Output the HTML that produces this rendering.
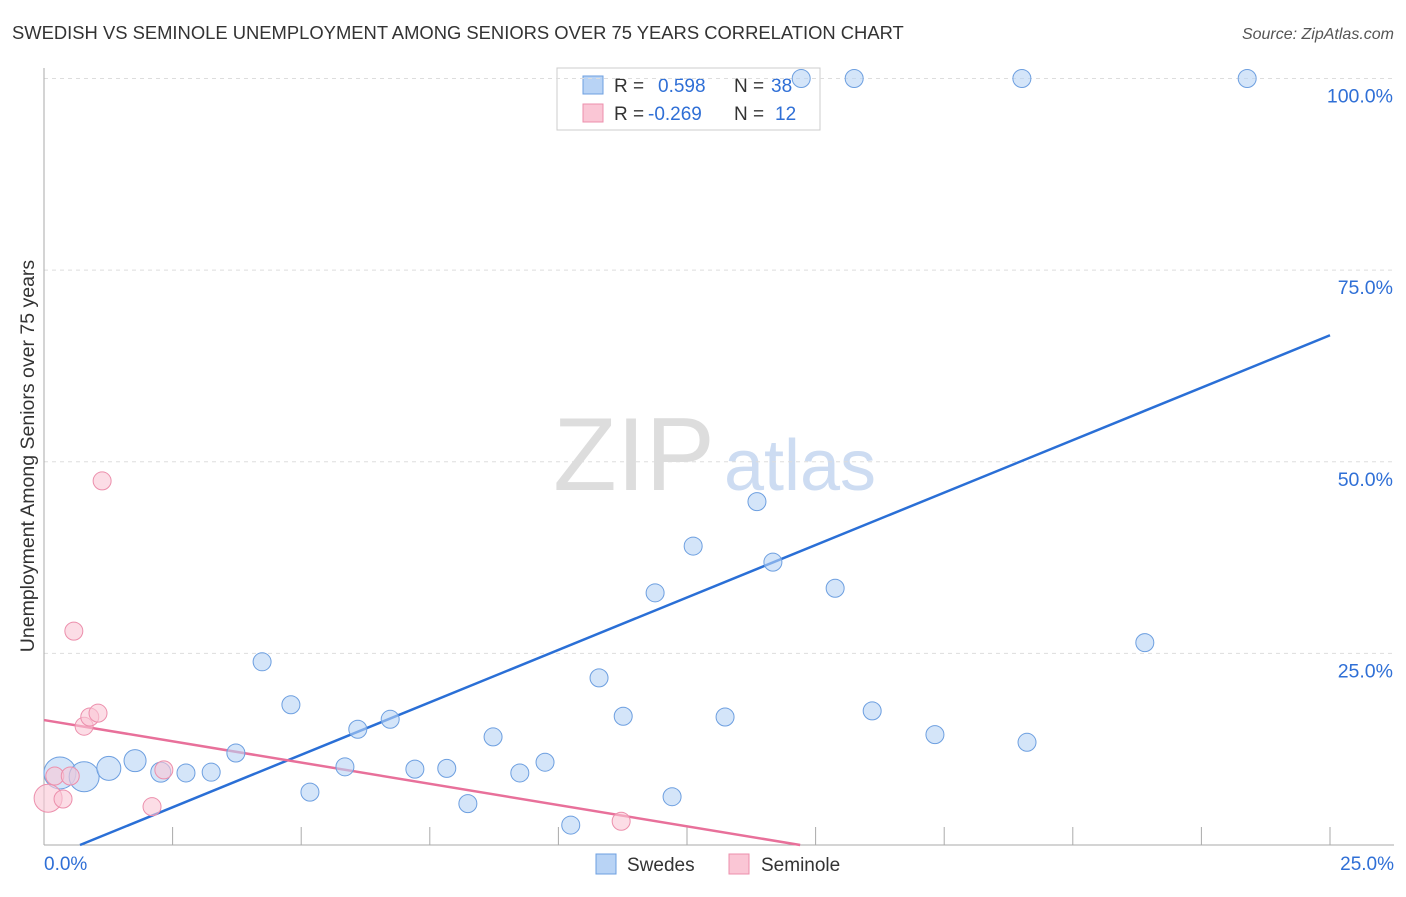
<!DOCTYPE html>
<html><head><meta charset="utf-8"><style>
body{margin:0;background:#fff;font-family:"Liberation Sans",sans-serif}
svg text{font-family:"Liberation Sans",sans-serif}
</style></head><body>
<svg id="chart" width="1406" height="892">
<text x="12" y="39" font-size="18.4" fill="#333">SWEDISH VS SEMINOLE UNEMPLOYMENT AMONG SENIORS OVER 75 YEARS CORRELATION CHART</text>
<text x="1394" y="39" font-size="16" fill="#555" text-anchor="end" font-style="italic">Source: ZipAtlas.com</text>
<text x="34" y="456" font-size="19.5" fill="#333" text-anchor="middle" transform="rotate(-90 34 456)">Unemployment Among Seniors over 75 years</text>
<g><text x="634" y="490" font-size="104" fill="#ddd" font-family="Liberation Serif" text-anchor="middle">ZIP</text><text x="800" y="490" font-size="72" fill="#cddcf2" text-anchor="middle">atlas</text></g>
<g>
<rect x="557" y="68" width="263" height="62" fill="#fff" stroke="#ccc"/>
<rect x="583" y="76" width="20" height="18" fill="#b8d3f5" stroke="#6d9fe0"/>
<rect x="583" y="104" width="20" height="18" fill="#fac6d5" stroke="#ec8fac"/>
<text x="614" y="92" font-size="19" fill="#333">R =</text><text x="658" y="92" font-size="19" fill="#2f6fd6">0.598</text>
<text x="734" y="92" font-size="19" fill="#333">N =</text><text x="771" y="92" font-size="19" fill="#2f6fd6">38</text>
<text x="614" y="120" font-size="19" fill="#333">R =</text><text x="648" y="120" font-size="19" fill="#2f6fd6">-0.269</text>
<text x="734" y="120" font-size="19" fill="#333">N =</text><text x="775" y="120" font-size="19" fill="#2f6fd6">12</text>
</g>
<g id="grid"></g><g id="axes"></g><g id="trends"></g><g id="pts"></g>
<g>
<rect x="596" y="854" width="20" height="20" fill="#b8d3f5" stroke="#6d9fe0"/><text x="627" y="871" font-size="19" fill="#333">Swedes</text>
<rect x="729" y="854" width="20" height="20" fill="#fac6d5" stroke="#ec8fac"/><text x="761" y="871" font-size="19" fill="#333">Seminole</text>
</g>
</svg>
<script>
const blueX=[0.31,0.78,1.26,1.77,2.27,2.76,3.25,3.73,4.24,4.80,5.17,5.85,6.10,6.73,7.21,7.83,8.24,8.73,9.25,9.74,10.24,10.79,11.26,11.88,12.21,12.62,13.24,13.86,14.17,14.72,15.38,15.75,16.10,17.32,19.01,19.11,21.40,23.39];
const blueY=[9.4,8.9,10.0,11.0,9.5,9.4,9.5,12.0,23.9,18.3,6.9,10.2,15.1,16.4,9.9,10.0,5.4,14.1,9.4,10.8,2.6,21.8,16.8,32.9,6.3,39.0,16.7,44.8,36.9,100,33.5,100,17.5,14.4,100,13.4,26.4,100];
const blueR=[16,15,12,11,10,9,9,9,9,9,9,9,9,9,9,9,9,9,9,9,9,9,9,9,9,9,9,9,9,9,9,9,9,9,9,9,9,9];
const pinkX=[0.08,0.21,0.37,0.51,0.58,0.78,0.89,1.05,1.13,2.1,2.33,11.22];
const pinkY=[6.1,9.0,6.0,9.0,27.9,15.5,16.7,17.2,47.5,5.0,9.8,3.1];
const pinkR=[14,9,9,9,9,9,9,9,9,9,9,9];
const blueTrend=[[0.7,0],[25,66.5]];
const pinkTrend=[[0,16.3],[14.7,0]];
const yTicks=[25,50,75,100];
const xTickLabels=["0.0%","25.0%"];
const NS="http://www.w3.org/2000/svg";
const sx=v=>44+v/25*1286, sy=v=>845-v/100*766.5;
function mk(p,t,a){const e=document.createElementNS(NS,t);for(const k in a)e.setAttribute(k,a[k]);document.getElementById(p).appendChild(e);return e;}
yTicks.forEach(t=>{
 const l=mk('grid','line',{x1:44,x2:1394,y1:sy(t),y2:sy(t),stroke:'#ddd','stroke-dasharray':'4 4'});
 
 
 const tx=mk('grid','text',{x:1393,y:sy(t)+24,'font-size':19.5,fill:'#2f6fd6','text-anchor':'end'});tx.textContent=t.toFixed(1)+'%';
 
 
});
mk('axes','line',{x1:44,x2:44,y1:68,y2:845,stroke:'#aaa'});
mk('axes','line',{x1:44,x2:1394,y1:845,y2:845,stroke:'#aaa'});
for(let i=1;i<=10;i++){const x=sx(i*2.5);const l=mk('axes','line',{x1:x,x2:x,y1:827,y2:845,stroke:'#aaa'});
 
 }
[[0,'start',44],[25,'end',1394]].forEach((d,i)=>{const t=mk('axes','text',{x:d[2],y:870,'font-size':19,fill:'#2f6fd6','text-anchor':d[1]});t.textContent=xTickLabels[i];
 
 });
function pts(X,Y,R,fill,stroke,name){X.forEach((x,i)=>{const c=mk('pts','circle',{cx:sx(x),cy:sy(Y[i]),r:R[i],fill:fill,stroke:stroke,'fill-opacity':0.6});
 
 });}
pts(blueX,blueY,blueR,'#b8d3f5','#6d9fe0','swedes-point');
pts(pinkX,pinkY,pinkR,'#fac6d5','#ec8fac','seminole-point');
const bl=mk('trends','line',{x1:sx(blueTrend[0][0]),y1:sy(blueTrend[0][1]),x2:sx(blueTrend[1][0]),y2:sy(blueTrend[1][1]),stroke:'#2a6fd6','stroke-width':2.5});


const pl=mk('trends','line',{x1:sx(pinkTrend[0][0]),y1:sy(pinkTrend[0][1]),x2:sx(pinkTrend[1][0]),y2:sy(pinkTrend[1][1]),stroke:'#e8709a','stroke-width':2.5});


</script>
</body></html>
